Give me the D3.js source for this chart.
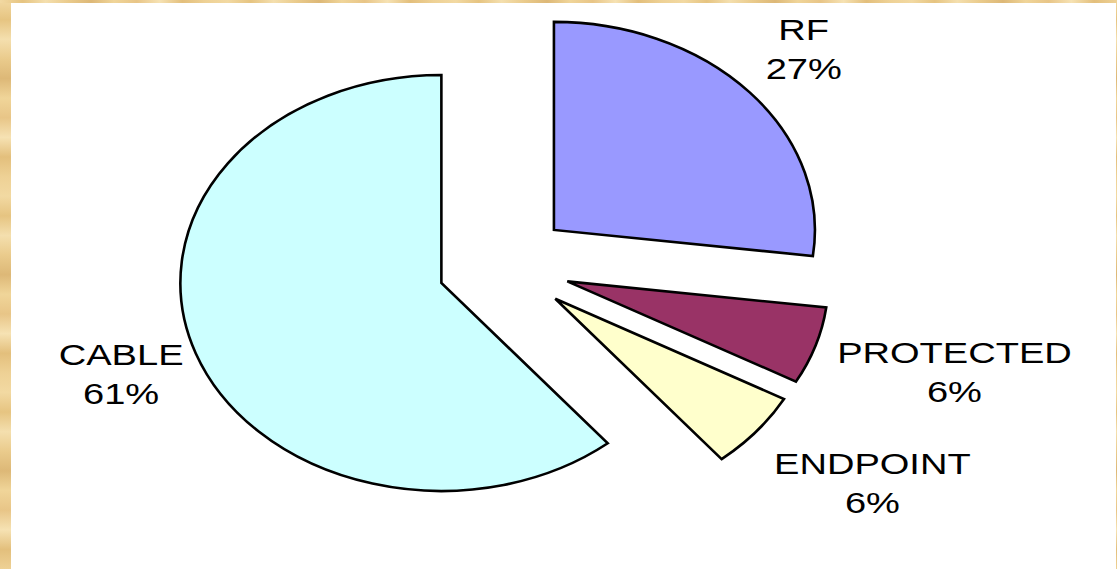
<!DOCTYPE html>
<html><head><meta charset="utf-8">
<script src="https://cdn.jsdelivr.net/npm/d3@7"></script>
<style>html,body{margin:0;padding:0;overflow:hidden;background:#fff}</style>
</head><body>
<svg id="c" width="1117" height="569"></svg>
<script>
// ---- data ----
const categories = ["RF", "PROTECTED", "ENDPOINT", "CABLE"];
const values = [27, 6, 6, 61];
const percentLabels = ["27%", "6%", "6%", "61%"];
const sliceColors = ["#9999FF", "#993366", "#FFFFCC", "#CCFFFF"];
const labelDistX = [1.13, 1.11, 1.2, 1.065];
const labelDistY = [1.13, 1.22, 1.2, 1.105];

// ---- layout ----
const W = 1117, H = 569;
const cx = 504, cy = 265, rx = 261, ry = 208, explode = 0.255;
const fontSize = 29.5, stretchX = 1.29, lineGap = 39;

const svg = d3.select("#c");
const defs = svg.append("defs");

// parchment border texture (fixed stops)
const texV = ["#F2D9A2","#E6C481","#F4DFAE","#EACB8C","#DDB877","#F0D599","#E8C587","#F6E2B3","#E3BF7C","#EED195"];
const gV = defs.append("linearGradient").attr("id","texV").attr("x1",0).attr("y1",0).attr("x2",0).attr("y2",1);
texV.concat(texV, texV).forEach((c,i,a)=>gV.append("stop").attr("offset", i/(a.length-1)).attr("stop-color", c));
const gH = defs.append("linearGradient").attr("id","texH").attr("x1",0).attr("y1",0).attr("x2",1).attr("y2",0);
texV.concat(texV, texV, texV, texV).forEach((c,i,a)=>gH.append("stop").attr("offset", i/(a.length-1)).attr("stop-color", c));

svg.append("rect").attr("x",0).attr("y",0).attr("width",W).attr("height",H).attr("fill","url(#texV)");
svg.append("rect").attr("x",0).attr("y",0).attr("width",W).attr("height",3).attr("fill","url(#texH)");
svg.append("rect").attr("x",11).attr("y",3).attr("width",1105).attr("height",H-3).attr("fill","#FFFFFF");

// ---- pie ----
const pie = d3.pie().sort(null).value(d => d.v);
const arcs = pie(values.map((v, i) => ({ v, i })));
const R = 1000;
const arc = d3.arc().innerRadius(0).outerRadius(R);

const g = svg.append("g");
arcs.forEach((a, i) => {
  const mid = (a.startAngle + a.endAngle) / 2;
  const ox = cx + explode * rx * Math.sin(mid);
  const oy = cy - explode * ry * Math.cos(mid);
  g.append("path")
    .attr("d", arc(a))
    .attr("transform", `translate(${ox},${oy}) scale(${rx / R},${ry / R})`)
    .attr("fill", sliceColors[i])
    .attr("stroke", "#000")
    .attr("stroke-width", 2.6)
    .attr("vector-effect", "non-scaling-stroke")
    .attr("stroke-linejoin", "miter");

  // label
  const lg = svg.append("g");
  const t = lg.append("text")
    .attr("font-family", "Liberation Sans, Arial, sans-serif")
    .attr("font-size", fontSize)
    .attr("fill", "#000")
    .attr("text-anchor", "middle");
  t.append("tspan").attr("x", 0).attr("y", -lineGap / 2).attr("dy", "0.36em").text(categories[i]);
  t.append("tspan").attr("x", 0).attr("y", lineGap / 2).attr("dy", "0.36em").text(percentLabels[i]);
  const bb = t.node().getBBox();
  const hw = bb.width * stretchX / 2, hh = lineGap;
  const lx = ox + (labelDistX[i] * rx + hw) * Math.sin(mid);
  const ly = oy - (labelDistY[i] * ry + hh) * Math.cos(mid);
  lg.attr("transform", `translate(${lx},${ly}) scale(${stretchX},1)`);
});
</script>
</body></html>
